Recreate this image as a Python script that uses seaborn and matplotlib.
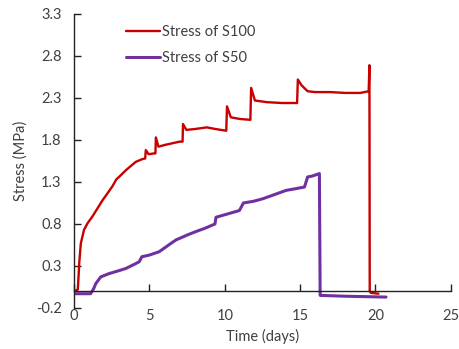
import matplotlib
matplotlib.use("Agg")
import matplotlib.pyplot as plt
import seaborn as sns
import pandas as pd

# Stress history of the S100 specimen (time in days, stress in MPa)
s100_time = [0, 0.25, 0.35, 0.45, 0.66, 0.9, 1.22, 1.5, 1.88, 2.2, 2.55, 2.8,
             3.1, 3.44, 3.7, 4.1, 4.5, 4.72, 4.76, 4.95, 5.3, 5.4, 5.43, 5.6,
             6.0, 6.5, 7.0, 7.2, 7.23, 7.45, 8.0, 8.8, 9.4, 10.1, 10.15, 10.4,
             11.0, 11.7, 11.75, 12.0, 12.8, 13.8, 14.8, 14.85, 15.1, 15.5, 16.0,
             17.0, 18.0, 19.0, 19.55, 19.6, 19.62, 19.7, 20.2]
s100_stress = [0.0, 0.02, 0.35, 0.57, 0.73, 0.81, 0.89, 0.97, 1.08, 1.16, 1.25, 1.33,
               1.38, 1.44, 1.48, 1.54, 1.57, 1.58, 1.68, 1.63, 1.64, 1.64, 1.83, 1.72,
               1.74, 1.76, 1.78, 1.78, 1.99, 1.92, 1.93, 1.95, 1.93, 1.91, 2.20, 2.07,
               2.05, 2.04, 2.42, 2.27, 2.25, 2.24, 2.24, 2.52, 2.45, 2.38, 2.37,
               2.37, 2.36, 2.36, 2.38, 2.69, 0.0, -0.02, -0.03]

# Stress history of the S50 specimen
s50_time = [0, 1.1, 1.3, 1.44, 1.77, 2.33, 2.9, 3.43, 4.0, 4.32, 4.5, 5.0, 5.65,
            6.2, 6.76, 7.53, 8.09, 8.7, 9.35, 9.42, 10.0, 10.97, 11.24, 11.9,
            12.52, 13.3, 14.07, 14.7, 15.29, 15.5, 15.8, 16.28, 16.33, 18.0, 20.7]
s50_stress = [-0.03, -0.03, 0.03, 0.09, 0.17, 0.21, 0.24, 0.27, 0.32, 0.35, 0.41, 0.43, 0.47,
              0.54, 0.61, 0.67, 0.71, 0.75, 0.80, 0.88, 0.91, 0.96, 1.05, 1.07,
              1.10, 1.15, 1.20, 1.22, 1.24, 1.36, 1.37, 1.40, -0.05, -0.06, -0.07]

series_names = ["Stress of S100", "Stress of S50"]
x_ticks = [0, 5, 10, 15, 20, 25]
y_ticks = [-0.2, 0.3, 0.8, 1.3, 1.8, 2.3, 2.8, 3.3]

sns.set_theme(style="white")
plt.rcParams["font.family"] = ["Lato", "DejaVu Sans"]
text_color = "#404040"

df100 = pd.DataFrame({"Time": s100_time, "Stress": s100_stress})
df50 = pd.DataFrame({"Time": s50_time, "Stress": s50_stress})

fig = plt.figure(figsize=(4.6, 3.49), dpi=100)
ax = fig.add_axes([0.161, 0.1175, 0.819, 0.8425])

sns.lineplot(data=df100, x="Time", y="Stress", ax=ax, color="#C80000",
             linewidth=1.7, sort=False, estimator=None, label=series_names[0])
sns.lineplot(data=df50, x="Time", y="Stress", ax=ax, color="#7030A0",
             linewidth=2.2, sort=False, estimator=None, label=series_names[1])

ax.set_xlim(0, 25)
ax.set_ylim(-0.2, 3.3)

# x axis line sits at zero stress, labels stay at the bottom
ax.spines["bottom"].set_position(("data", 0))
ax.spines["top"].set_visible(False)
ax.spines["right"].set_visible(False)
for side in ("left", "bottom"):
    ax.spines[side].set_color("#222222")
    ax.spines[side].set_linewidth(1.0)

ax.set_xticks(x_ticks)
ax.set_yticks(y_ticks)
ax.set_yticklabels([f"{v:.1f}" for v in y_ticks])
ax.tick_params(axis="x", direction="in", length=5, width=1, color="#222222",
               labelbottom=False, bottom=True)
ax.tick_params(axis="y", direction="in", length=5, width=1, color="#222222",
               labelsize=10.5, labelcolor=text_color, pad=9, left=True)

sec = ax.secondary_xaxis("bottom")
sec.set_xticks(x_ticks)
sec.spines["bottom"].set_visible(False)
sec.tick_params(axis="x", length=0, labelsize=10.5, labelcolor=text_color, pad=1)

ax.set_xlabel("")
ax.set_ylabel("Stress (MPa)", fontsize=10.5, color=text_color, labelpad=6)
sec.set_xlabel("Time (days)", fontsize=10.5, color=text_color, labelpad=4)

leg = ax.legend(loc="upper left", bbox_to_anchor=(0.115, 0.992), frameon=False,
                fontsize=10.5, handlelength=2.3, handletextpad=0.15,
                labelspacing=0.8, borderaxespad=0.2)
for t in leg.get_texts():
    t.set_color(text_color)

fig.savefig("out.png", dpi=100)
